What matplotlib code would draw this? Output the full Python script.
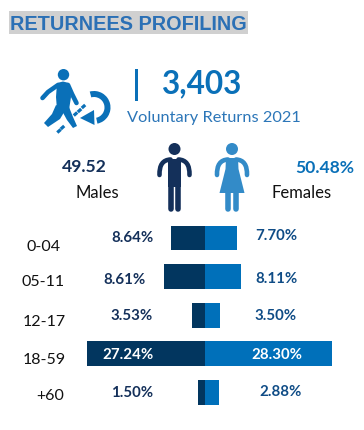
import matplotlib
matplotlib.use("Agg")
import matplotlib.pyplot as plt
from matplotlib.patches import Circle, Polygon, Wedge, Rectangle, PathPatch
from matplotlib.path import Path

W, H = 364, 431

title = "RETURNEES PROFILING"
total = "3,403"
subtitle = "Voluntary Returns 2021"
male_total = "49.52"
female_total = "50.48%"
age_groups = ["0-04", "05-11", "12-17", "18-59", "+60"]
male_labels = ["8.64%", "8.61%", "3.53%", "27.24%", "1.50%"]
female_labels = ["7.70%", "8.11%", "3.50%", "28.30%", "2.88%"]
# bar lengths as drawn in the picture (they differ slightly from the labels)
male_bars = [7.7, 9.3, 3.0, 26.9, 1.6]
female_bars = [7.1, 8.1, 3.4, 28.8, 3.0]

NAVY = "#02365f"
BLUE = "#0070ba"
DARK = "#14305a"
LIGHTB = "#338bc8"
ICON = "#0a70b8"
LABB = "#0f4c86"
FONT = "Lato"

fig = plt.figure(figsize=(W / 100, H / 100), dpi=100)
ax = fig.add_axes([0, 0, 1, 1])
PX = 4.4
RY = 38.6
ax.set_xlim(-205.3 / PX, (W - 205.3) / PX)
ax.set_ylim((H - 239) / RY, -239 / RY)
ax.axis("off")
rows = list(range(len(age_groups)))
ax.barh(rows, [-v for v in male_bars], height=0.645, color=NAVY, lw=0)
ax.barh(rows, female_bars, height=0.645, color=BLUE, lw=0)

ov = fig.add_axes([0, 0, 1, 1])
ov.set_xlim(0, W)
ov.set_ylim(H, 0)
ov.axis("off")
ov.patch.set_alpha(0)

def T(x, y, s, c, size, w="normal", ha="center", fam=FONT):
    ov.text(x, y, s, color=c, fontsize=size, fontweight=w, ha=ha, va="center", family=fam)

def curve(pts, c, lw):
    # pts: start, then (control, end) pairs
    verts = [pts[0]] + list(pts[1:])
    codes = [Path.MOVETO] + [Path.CURVE3] * (len(pts) - 1)
    ov.add_patch(PathPatch(Path(verts, codes), fc="none", ec=c, lw=lw, capstyle="round", joinstyle="round"))

def stroke(pts, c, lw):
    codes = [Path.MOVETO] + [Path.LINETO] * (len(pts) - 1)
    ov.add_patch(PathPatch(Path(pts, codes), fc="none", ec=c, lw=lw, capstyle="round", joinstyle="round"))

# title
ov.add_patch(Rectangle((9, 12), 239, 23, color="#d0d0d0", lw=0))
T(10.5, 24, title, "#2b70b5", 14.3, "bold", "left", "Liberation Sans")

# main figure
T(202, 84, total, ICON, 22.7, "bold")
ov.add_patch(Rectangle((135, 70), 3, 32, color=ICON, lw=0))
T(213.5, 118.5, subtitle, "#2c76b8", 11.8)

# walking person
ov.add_patch(Circle((63.5, 75.7), 5.7, color=ICON, lw=0))
ov.add_patch(Polygon([(57, 84), (63, 82.5), (69, 84), (71, 98), (69, 111), (57, 111), (56, 98)], color=ICON, lw=0))
stroke([(58, 86), (48, 93), (42.5, 99)], ICON, 3.3)
stroke([(68, 86), (72, 95), (76.5, 104)], ICON, 3.3)
ov.add_patch(Polygon([(56, 106), (66, 110), (60, 120), (48, 128), (44, 124), (52, 115)], color=ICON, lw=0))
ov.add_patch(Polygon([(61, 110), (69, 108), (73, 118), (77, 127), (73, 129), (67, 121)], color=ICON, lw=0))
for x, y in [(59, 132), (62.5, 128.5), (75.5, 115), (79.5, 111.5), (83.5, 107.5)]:
    ov.add_patch(Rectangle((x - 2.3, y - 1.6), 4.6, 3.2, angle=-42, rotation_point="center", color=ICON, lw=0))
# return arrow
ov.add_patch(Wedge((94, 108.5), 16.5, -105, 78, width=6, color=ICON, lw=0))
ov.add_patch(Polygon([(80, 119), (94, 111), (94.5, 126)], color=ICON, lw=0))

# people icons
def arms(cx, c):
    curve([(cx - 15, 176), (cx - 15.5, 161), (cx - 4, 160.5)], c, 3.3)
    curve([(cx + 15, 176), (cx + 15.5, 161), (cx + 4, 160.5)], c, 3.3)

def man(cx, c):
    ov.add_patch(Circle((cx, 150), 6, color=c, lw=0))
    arms(cx, c)
    ov.add_patch(Rectangle((cx - 6.8, 160), 13.6, 28, color=c, lw=0))
    stroke([(cx - 3.8, 186), (cx - 3.8, 210)], c, 4.0)
    stroke([(cx + 3.8, 186), (cx + 3.8, 210)], c, 4.0)

def woman(cx, c):
    ov.add_patch(Circle((cx, 150), 6, color=c, lw=0))
    arms(cx, c)
    ov.add_patch(Polygon([(cx - 6, 159), (cx + 6, 159), (cx + 6.5, 170), (cx + 12.5, 194),
                          (cx - 12.5, 194), (cx - 6.5, 170)], color=c, lw=0))
    stroke([(cx - 4, 192), (cx - 4, 210)], c, 4.0)
    stroke([(cx + 4, 192), (cx + 4, 210)], c, 4.0)

man(174.5, DARK)
woman(232, LIGHTB)

T(84.5, 167, male_total, DARK, 12.6, "bold")
T(97, 193, "Males", "#111111", 12)
T(325, 168, female_total, ICON, 12.6, "bold")
T(302, 193, "Females", "#111111", 12)

# row labels
ages_x = [44, 43.5, 44.5, 44, 50]
ages_y = [247, 282, 322, 360, 396]
for x, y, s in zip(ages_x, ages_y, age_groups):
    T(x, y, s, "#111111", 11.5)
mx = [132, 125, 132, 128, 132]
my = [238, 280, 316, 355, 393]
fx = [276, 277, 276, 277, 281]
fy = [236, 279, 316, 355, 392]
for i in rows:
    mc = "white" if i == 3 else DARK
    fc = "white" if i == 3 else LABB
    T(mx[i], my[i], male_labels[i], mc, 10.8, "bold")
    T(fx[i], fy[i], female_labels[i], fc, 10.8, "bold")

fig.savefig("out.png", dpi=100)
